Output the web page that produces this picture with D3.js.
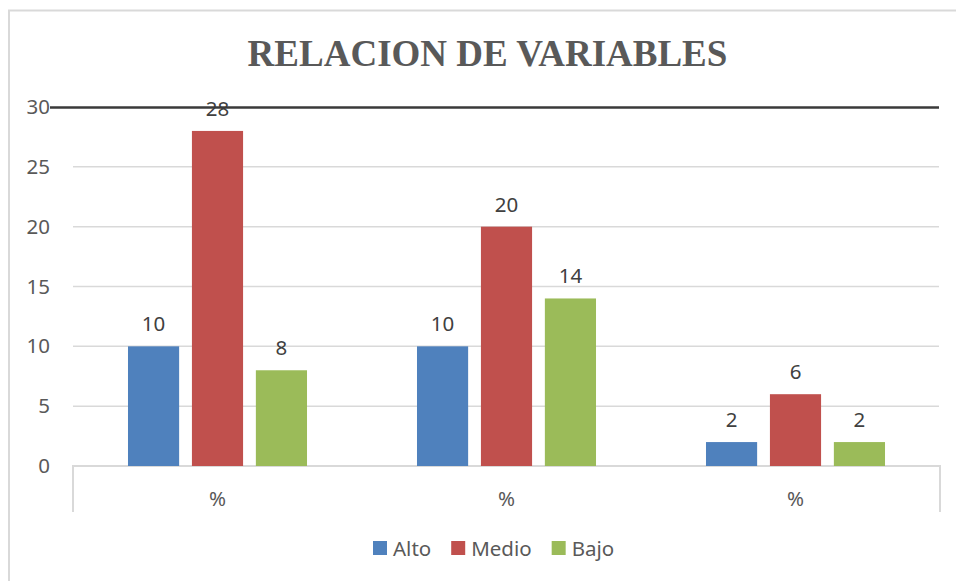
<!DOCTYPE html>
<html>
<head>
<meta charset="utf-8">
<script src="https://cdn.jsdelivr.net/npm/d3@7"></script>
<style>
  body { margin: 0; background: #fff; }
  text { font-family: "Noto Sans", "Open Sans", sans-serif; }
</style>
</head>
<body>
<svg id="chart" width="956" height="581"></svg>
<script>
// chart data
let categories = ["%", "%", "%"];
let seriesNames = ["Alto", "Medio", "Bajo"];
let alto = [10, 10, 2];
let medio = [28, 20, 6];
let bajo = [8, 14, 2];
let yTicks = [0, 5, 10, 15, 20, 25, 30];
let colours = ["#4f81bd", "#c0504d", "#9bbb59"];

let seriesValues = [alto, medio, bajo];

let plot = { left: 73, right: 940, top: 107, bottom: 466 };
let tickLen = 46; // category axis side lines below zero
let fontSize = "20.5px";

let svg = d3.select("#chart");

svg.append("rect")
    .attr("width", 956).attr("height", 581)
    .attr("fill", "#fff");

// outer chart border (only top and left visible)
svg.append("rect")
    .attr("x", 9).attr("y", 10.5)
    .attr("width", 1000).attr("height", 1000)
    .attr("fill", "none")
    .attr("stroke", "#d9d9d9")
    .attr("stroke-width", 2);

// title
svg.append("text")
    .attr("x", 487.5)
    .attr("y", 66)
    .attr("text-anchor", "middle")
    .style("font-family", "'Liberation Serif', 'Times New Roman', serif")
    .style("font-weight", "bold")
    .style("font-size", "37px")
    .attr("fill", "#595959")
    .text("RELACION DE VARIABLES");

let x0 = d3.scaleBand()
    .domain(d3.range(categories.length))
    .range([plot.left, plot.right])
    .padding(0);

let x1 = d3.scaleBand()
    .domain(d3.range(seriesNames.length))
    .range([0, x0.bandwidth()])
    .paddingInner(0.2)
    .paddingOuter(0.86);

let y = d3.scaleLinear()
    .domain([0, 30])
    .range([plot.bottom, plot.top]);

// gridlines
svg.append("g")
    .selectAll("line")
    .data(yTicks.filter(t => t > 0 && t < 30))
    .join("line")
    .attr("x1", plot.left).attr("x2", plot.right - 1)
    .attr("y1", d => y(d)).attr("y2", d => y(d))
    .attr("stroke", "#d9d9d9")
    .attr("stroke-width", 1.5);

// y tick labels
let yAxis = d3.axisLeft(y).tickValues(yTicks).tickSize(0).tickPadding(0);
let gy = svg.append("g")
    .attr("transform", "translate(50,0)")
    .call(yAxis);
gy.select(".domain").remove();
gy.selectAll("text")
    .style("font-family", "'Noto Sans', sans-serif")
    .style("font-size", fontSize)
    .attr("fill", "#595959");

// category axis: baseline and side lines
svg.append("path")
    .attr("d", "M" + plot.left + "," + (plot.bottom + tickLen) +
               "V" + plot.bottom + "H" + plot.right + "V" + (plot.bottom + tickLen))
    .attr("fill", "none")
    .attr("stroke", "#d9d9d9")
    .attr("stroke-width", 2);

// category labels
svg.append("g")
    .selectAll("text")
    .data(categories)
    .join("text")
    .attr("x", (d, i) => x0(i) + x0.bandwidth() / 2)
    .attr("y", 506)
    .attr("text-anchor", "middle")
    .style("font-size", fontSize)
    .attr("fill", "#595959")
    .text(d => d);

// bars
let groups = svg.append("g")
    .selectAll("g")
    .data(categories)
    .join("g")
    .attr("transform", (d, i) => "translate(" + x0(i) + ",0)");

groups.selectAll("rect")
    .data((d, i) => seriesValues.map((s, j) => ({ s: j, v: s[i] })))
    .join("rect")
    .attr("x", d => x1(d.s))
    .attr("y", d => y(d.v))
    .attr("width", x1.bandwidth())
    .attr("height", d => y(0) - y(d.v))
    .attr("fill", d => colours[d.s]);

// dark line at the top of the value axis
svg.append("line")
    .attr("x1", 50).attr("x2", plot.right - 1)
    .attr("y1", y(30) + 0.5).attr("y2", y(30) + 0.5)
    .attr("stroke", "#3a3a3a")
    .attr("stroke-width", 2.3);

// value labels
groups.selectAll("text")
    .data((d, i) => seriesValues.map((s, j) => ({ s: j, v: s[i] })))
    .join("text")
    .attr("x", d => x1(d.s) + x1.bandwidth() / 2)
    .attr("y", d => y(d.v) - 15)
    .attr("text-anchor", "middle")
    .style("font-size", fontSize)
    .attr("fill", "#404040")
    .text(d => d.v);

// legend
let legend = svg.append("g");
let lx = 373;
seriesNames.forEach((name, i) => {
    legend.append("rect")
        .attr("x", lx).attr("y", 541)
        .attr("width", 14).attr("height", 14)
        .attr("fill", colours[i]);
    let t = legend.append("text")
        .attr("x", lx + 20)
        .attr("y", 556)
        .style("font-size", fontSize)
        .attr("fill", "#595959")
        .text(name);
    lx += 20 + t.node().getComputedTextLength() + 20;
});
</script>
</body>
</html>
